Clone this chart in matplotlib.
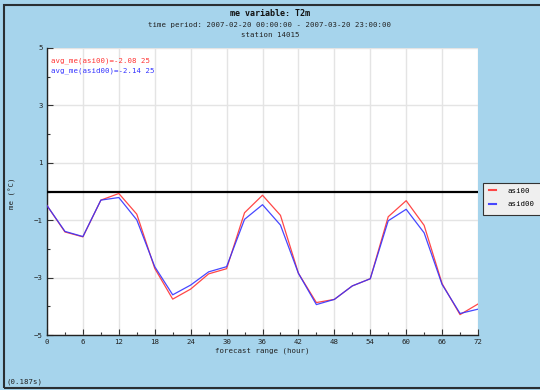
import matplotlib
matplotlib.use("Agg")
import matplotlib.pyplot as plt
from matplotlib.patches import Rectangle
from matplotlib.ticker import MultipleLocator

hours = list(range(0, 73, 3))
asi00 = [-0.49, -1.41, -1.58, -0.30, -0.07, -0.79, -2.68, -3.75, -3.40, -2.87, -2.69,
         -0.74, -0.13, -0.83, -2.85, -3.87, -3.76, -3.29, -3.04, -0.88, -0.32, -1.18,
         -3.21, -4.29, -3.92]
asid00 = [-0.49, -1.39, -1.57, -0.30, -0.21, -0.99, -2.62, -3.60, -3.26, -2.80, -2.62,
          -0.97, -0.46, -1.17, -2.85, -3.94, -3.76, -3.29, -3.04, -1.02, -0.62, -1.44,
          -3.24, -4.25, -4.10]
series_names = ["asi00", "asid00"]
series_colors = ["#ff3333", "#3333ff"]
avg_labels = ["avg_me(asi00)=-2.08 25", "avg_me(asid00)=-2.14 25"]
title = "me variable: T2m"
subtitle = "time period: 2007-02-20 00:00:00 - 2007-03-20 23:00:00"
station = "station 14015"

W, H = 540, 390
bg = "#a6d4ec"
mono = "DejaVu Sans Mono"

fig = plt.figure(figsize=(W / 100, H / 100), dpi=100, facecolor=bg)

# outer border (open on the right side, as in the reference)
fig.patches.append(Rectangle((4 / W, 2 / H), 1.05, (H - 7) / H, transform=fig.transFigure,
                             fill=False, edgecolor="#2a2f33", linewidth=1.5, zorder=0))

ax = fig.add_axes([47 / W, (H - 335) / H, 431 / W, 287 / H])
ax.set_facecolor("white")
ax.set_xlim(0, 72)
ax.set_ylim(-5, 5)
ax.xaxis.set_major_locator(MultipleLocator(6))
ax.xaxis.set_minor_locator(MultipleLocator(3))
ax.set_yticks([5, 3, 1, -1, -3, -5])
ax.yaxis.set_minor_locator(MultipleLocator(1))
ax.grid(True, which="major", color="#e4e4e4", linewidth=1.0)
ax.set_axisbelow(True)
for s in ["top", "right"]:
    ax.spines[s].set_visible(False)
for s in ["left", "bottom"]:
    ax.spines[s].set_color("#222222")
    ax.spines[s].set_linewidth(1.0)
ax.tick_params(which="major", direction="in", length=4, width=0.8, color="#333333",
               labelsize=5.3, labelcolor="#222222", pad=3)
ax.tick_params(which="minor", direction="in", length=2, width=0.8, color="#333333")
for lab in ax.get_xticklabels() + ax.get_yticklabels():
    lab.set_fontfamily(mono)

ax.axhline(0, color="black", linewidth=1.6, zorder=3)

for name, vals, c in zip(series_names, [asi00, asid00], series_colors):
    ax.plot(hours, vals, color=c, linewidth=0.9, label=name, zorder=4, alpha=0.9)

for i, (t, c) in enumerate(zip(avg_labels, series_colors)):
    ax.text(4 / 431, 1 - (13 + 10 * i) / 287, t, transform=ax.transAxes, color=c,
            fontsize=5.3, family=mono, va="center", ha="left")

ax.set_xlabel("forecast range (hour)", fontsize=5.3, family=mono, labelpad=2, color="#222222")
ax.set_ylabel("me (\u00b0C)", fontsize=5.3, family=mono, color="#222222")
ax.yaxis.set_label_coords(-31 / 431, (335 - 193) / 287)

fig.text(0.5, 1 - 14 / H, title, ha="center", va="center", fontsize=6, family=mono,
         fontweight="bold", color="#111111")
fig.text(0.5, 1 - 25 / H, subtitle, ha="center", va="center", fontsize=5.3, family=mono,
         color="#222222")
fig.text(0.5, 1 - 35 / H, station, ha="center", va="center", fontsize=5.3, family=mono,
         color="#222222")
fig.text(6 / W, 1 - 382 / H, "(0.187s)", ha="left", va="center", fontsize=5.3, family=mono,
         color="#222222")

# legend box running off the right edge
fig.patches.append(Rectangle((483 / W, 1 - 215 / H), 70 / W, 32 / H, transform=fig.transFigure,
                             facecolor="#efefef", edgecolor="#333333", linewidth=0.8, zorder=1))
leg = fig.legend(loc="upper left", bbox_to_anchor=(485 / W, 1 - 184 / H),
                 bbox_transform=fig.transFigure, prop={"family": mono, "size": 5.3},
                 frameon=False, handlelength=1.0, handletextpad=1.5,
                 borderpad=0.5, labelspacing=1.0, borderaxespad=0)
for line in leg.get_lines():
    line.set_linewidth(1.5)

fig.savefig("out.png", dpi=100, facecolor=bg)
